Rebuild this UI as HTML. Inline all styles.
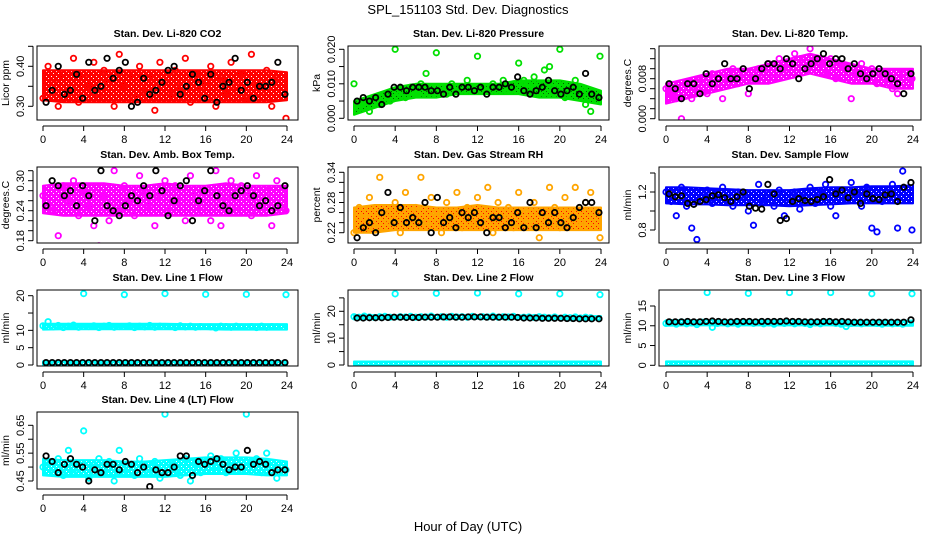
<!DOCTYPE html>
<html><head><meta charset="utf-8"><style>
html,body{margin:0;padding:0;background:#fff;}
svg{display:block;font-family:"Liberation Sans",sans-serif;}
</style></head><body>
<svg id="chart" width="936" height="540" viewBox="0 0 936 540">
<text x="468" y="14" text-anchor="middle" font-size="13">SPL_151103  Std. Dev. Diagnostics</text>
<text x="468" y="531" text-anchor="middle" font-size="13">Hour of Day (UTC)</text>
</svg>
<script>
const xTicks=[0,4,8,12,16,20,24];
const coHours=[0,0.5,1,1.5,2,2.5,3,3.5,4,4.5,5,5.5,6,6.5,7,7.5,8,8.5,9,9.5,10,10.5,11,11.5,12,12.5,13,13.5,14,14.5,15,15.5,16,16.5,17,17.5,18,18.5,19,19.5,20,20.5,21,21.5,22,22.5,23,23.9];
const bkHours=[0.3,0.9,1.5,2.1,2.7,3.3,3.9,4.5,5.1,5.7,6.3,6.9,7.5,8.1,8.7,9.3,9.9,10.5,11.1,11.7,12.3,12.9,13.5,14.1,14.7,15.3,15.9,16.5,17.1,17.7,18.3,18.9,19.5,20.1,20.7,21.3,21.9,22.5,23.1,23.8];
const bandHours=[0,2,4,6,8,10,12,14,16,18,20,22,24];

const co2Col=[0.32,0.40,0.36,0.30,0.38,0.34,0.42,0.31,0.37,0.35,0.41,0.33,0.39,0.36,0.30,0.43,0.35,0.38,0.32,0.40,0.34,0.37,0.29,0.41,0.36,0.33,0.39,0.35,0.42,0.31,0.38,0.34,0.36,0.40,0.30,0.37,0.33,0.41,0.35,0.38,0.32,0.43,0.36,0.34,0.39,0.30,0.37,0.27];
const co2Blk=[0.31,0.34,0.40,0.33,0.34,0.38,0.32,0.41,0.34,0.35,0.42,0.37,0.39,0.41,0.30,0.31,0.37,0.33,0.34,0.36,0.39,0.40,0.33,0.35,0.38,0.36,0.32,0.38,0.31,0.35,0.36,0.42,0.34,0.36,0.32,0.35,0.35,0.36,0.41,0.33];
const co2Lo=[0.315,0.31,0.31,0.31,0.31,0.31,0.31,0.31,0.31,0.31,0.31,0.31,0.315];
const co2Hi=[0.39,0.39,0.39,0.39,0.39,0.39,0.39,0.39,0.39,0.39,0.39,0.39,0.385];

const prCol=[0.010,0.003,0.005,0.002,0.006,0.004,0.007,0.005,0.020,0.008,0.006,0.009,0.007,0.010,0.013,0.008,0.019,0.009,0.007,0.010,0.008,0.009,0.011,0.008,0.018,0.009,0.008,0.010,0.009,0.011,0.008,0.010,0.016,0.011,0.009,0.012,0.010,0.014,0.015,0.009,0.020,0.006,0.008,0.011,0.009,0.004,0.002,0.018];
const prBlk=[0.005,0.006,0.005,0.006,0.004,0.007,0.009,0.009,0.008,0.009,0.009,0.009,0.008,0.008,0.007,0.009,0.007,0.009,0.009,0.008,0.009,0.007,0.009,0.009,0.010,0.009,0.012,0.008,0.007,0.008,0.009,0.011,0.008,0.007,0.008,0.009,0.007,0.013,0.007,0.006];
const prLo=[0.001,0.003,0.005,0.006,0.006,0.007,0.007,0.007,0.007,0.006,0.006,0.005,0.004];
const prHi=[0.005,0.007,0.009,0.010,0.010,0.010,0.010,0.010,0.011,0.011,0.011,0.010,0.008];

const tpCol=[0.006,0.005,0.004,0.000,0.007,0.004,0.006,0.008,0.005,0.009,0.007,0.004,0.008,0.010,0.007,0.009,0.005,0.008,0.010,0.009,0.011,0.008,0.012,0.010,0.011,0.013,0.012,0.010,0.014,0.012,0.011,0.009,0.012,0.008,0.011,0.010,0.004,0.009,0.011,0.008,0.010,0.007,0.009,0.008,0.006,0.005,0.009,0.008];
const tpBlk=[0.007,0.006,0.004,0.007,0.007,0.005,0.009,0.007,0.008,0.011,0.008,0.008,0.010,0.006,0.008,0.010,0.011,0.011,0.010,0.012,0.011,0.008,0.010,0.011,0.012,0.013,0.011,0.012,0.012,0.010,0.011,0.009,0.008,0.009,0.010,0.009,0.008,0.007,0.005,0.009];
const tpLo=[0.003,0.004,0.005,0.006,0.007,0.007,0.008,0.009,0.008,0.007,0.007,0.006,0.006];
const tpHi=[0.007,0.008,0.009,0.010,0.010,0.011,0.012,0.013,0.012,0.011,0.010,0.010,0.010];

const bxCol=[0.27,0.25,0.24,0.19,0.29,0.26,0.30,0.23,0.28,0.25,0.21,0.17,0.27,0.22,0.32,0.24,0.29,0.26,0.23,0.31,0.28,0.25,0.21,0.27,0.30,0.24,0.29,0.26,0.22,0.31,0.27,0.24,0.28,0.22,0.32,0.21,0.26,0.30,0.24,0.29,0.27,0.23,0.31,0.25,0.28,0.21,0.30,0.24];
const bxBlk=[0.25,0.30,0.29,0.27,0.28,0.25,0.29,0.27,0.22,0.32,0.25,0.24,0.23,0.25,0.27,0.26,0.29,0.27,0.32,0.28,0.23,0.26,0.29,0.30,0.22,0.26,0.28,0.32,0.27,0.25,0.24,0.27,0.28,0.29,0.27,0.25,0.26,0.24,0.25,0.29];
const bxLo=[0.235,0.23,0.23,0.23,0.23,0.23,0.23,0.23,0.23,0.23,0.23,0.23,0.235];
const bxHi=[0.29,0.295,0.295,0.295,0.29,0.29,0.295,0.29,0.29,0.295,0.29,0.29,0.29];

const rhCol=[0.22,0.27,0.25,0.29,0.23,0.33,0.26,0.24,0.28,0.22,0.30,0.25,0.27,0.33,0.24,0.29,0.26,0.22,0.28,0.25,0.30,0.23,0.27,0.24,0.29,0.26,0.31,0.22,0.28,0.25,0.27,0.23,0.30,0.26,0.24,0.28,0.21,0.25,0.31,0.27,0.23,0.29,0.25,0.31,0.24,0.28,0.30,0.21];
const rhBlk=[0.21,0.23,0.24,0.22,0.26,0.30,0.24,0.27,0.24,0.25,0.24,0.28,0.22,0.29,0.24,0.25,0.23,0.26,0.25,0.26,0.24,0.22,0.25,0.25,0.23,0.24,0.26,0.23,0.28,0.23,0.26,0.24,0.26,0.24,0.23,0.25,0.27,0.28,0.28,0.26];
const rhLo=[0.22,0.22,0.225,0.225,0.225,0.225,0.225,0.225,0.225,0.225,0.225,0.225,0.225];
const rhHi=[0.27,0.275,0.275,0.275,0.27,0.27,0.275,0.27,0.27,0.27,0.27,0.27,0.27];

const sfCol=[1.20,1.10,0.95,1.25,1.05,0.82,0.70,1.15,1.22,1.08,1.18,1.25,1.12,1.05,1.20,1.15,1.00,0.85,1.28,1.10,1.18,1.05,1.22,0.95,1.12,1.20,1.02,1.15,1.25,1.08,1.18,1.28,1.05,0.95,1.22,1.12,1.30,1.18,1.05,1.25,0.82,0.78,1.10,1.20,1.28,0.82,1.42,0.80];
const sfBlk=[1.18,1.15,1.16,1.08,1.07,1.10,1.12,1.16,1.17,1.14,1.10,1.15,1.20,1.05,1.03,1.02,1.28,1.18,0.90,0.92,1.10,1.13,1.11,1.10,1.12,1.15,1.33,1.18,1.22,1.14,1.20,1.08,1.18,1.13,1.12,1.17,1.18,1.10,1.25,1.30];
const sfLo=[1.08,1.07,1.07,1.06,1.06,1.06,1.05,1.06,1.07,1.08,1.08,1.08,1.08];
const sfHi=[1.25,1.25,1.24,1.23,1.22,1.22,1.22,1.24,1.25,1.25,1.26,1.26,1.27];

const l1Col=[11.3,12.5,11.0,11.4,10.8,11.2,11.5,10.9,20.6,11.1,11.3,10.8,11.2,11.4,10.9,11.1,20.3,11.3,10.8,11.2,11.0,11.4,10.9,11.2,20.6,11.1,10.8,11.3,11.0,11.2,10.9,11.1,20.4,11.0,10.7,11.2,11.1,10.9,11.2,11.0,20.4,11.1,10.8,11.2,10.9,11.1,11.0,20.3];
const l1Blk=[0.7,0.7,0.7,0.7,0.7,0.7,0.7,0.7,0.7,0.7,0.7,0.7,0.7,0.7,0.7,0.7,0.7,0.7,0.7,0.7,0.7,0.7,0.7,0.7,0.7,0.7,0.7,0.7,0.7,0.7,0.7,0.7,0.7,0.7,0.7,0.7,0.7,0.7,0.7,0.7];
const l1Lo=[10.2,10.3,10.3,10.3,10.3,10.3,10.3,10.3,10.3,10.2,10.2,10.2,10.2];
const l1Hi=[11.9,11.9,11.9,11.9,11.9,11.9,11.9,11.8,11.8,11.8,11.8,11.8,11.8];
const l1Lo2=[0,0,0,0,0,0,0,0,0,0,0,0,0];
const l1Hi2=[1.1,1.1,1.1,1.1,1.1,1.1,1.1,1.1,1.1,1.1,1.1,1.1,1.1];

const l2Col=[18.0,17.8,18.2,17.9,17.7,18.0,18.1,17.8,26.5,18.0,17.9,18.1,17.8,18.0,17.9,18.2,26.7,18.0,17.8,18.1,17.9,18.0,17.8,18.1,26.8,18.0,17.9,18.2,17.8,18.0,17.9,18.1,26.5,17.8,17.9,17.7,18.0,17.8,17.6,17.9,26.5,17.8,17.6,17.9,17.5,17.8,17.6,26.2];
const l2Blk=[17.5,17.5,17.6,17.6,17.6,17.7,17.8,17.8,17.7,17.7,17.7,17.8,17.8,17.8,17.9,17.9,17.8,17.8,17.9,17.9,17.9,17.8,17.8,17.8,17.8,17.8,17.7,17.5,17.5,17.5,17.4,17.4,17.4,17.4,17.3,17.3,17.2,17.2,17.2,17.2];
const l2Lo=[17.0,17.1,17.1,17.2,17.2,17.2,17.2,17.2,17.1,17.0,17.0,16.9,16.9];
const l2Hi=[18.6,18.5,18.5,18.5,18.6,18.6,18.6,18.6,18.5,18.4,18.3,18.2,18.2];
const l2Lo2=[0,0,0,0,0,0,0,0,0,0,0,0,0];
const l2Hi2=[1.3,1.3,1.3,1.3,1.3,1.3,1.3,1.3,1.3,1.3,1.3,1.3,1.3];

const l3Col=[10.6,10.8,10.4,11.0,10.5,10.7,10.3,10.9,18.4,9.6,10.6,10.8,10.5,10.7,10.4,10.9,18.2,10.6,10.8,10.5,10.7,10.4,10.9,10.6,18.4,10.5,10.8,10.6,10.3,10.7,10.5,10.9,18.4,10.6,10.4,9.8,10.6,10.7,10.5,10.8,18.1,10.6,10.4,10.7,10.5,10.6,10.4,18.1];
const l3Blk=[11.0,11.0,11.0,11.1,11.0,11.0,11.1,11.2,11.1,11.0,11.0,11.1,11.1,11.1,11.0,11.1,11.1,11.1,11.1,11.2,11.1,11.1,11.0,11.0,11.0,11.1,11.1,11.0,11.1,11.0,10.9,10.9,10.9,10.9,10.9,10.9,10.9,10.9,10.9,11.5];
const l3Lo=[10.0,10.1,10.1,10.1,10.1,10.1,10.1,10.1,10.1,10.0,10.0,10.0,10.0];
const l3Hi=[11.4,11.4,11.4,11.4,11.4,11.4,11.4,11.4,11.4,11.3,11.3,11.3,11.3];
const l3Lo2=[0,0,0,0,0,0,0,0,0,0,0,0,0];
const l3Hi2=[1.0,1.0,1.0,1.0,1.0,1.0,1.0,1.0,1.0,1.0,1.0,1.0,1.0];

const l4Col=[0.50,0.52,0.48,0.53,0.47,0.56,0.49,0.51,0.63,0.46,0.50,0.53,0.48,0.52,0.45,0.56,0.49,0.51,0.47,0.53,0.50,0.48,0.52,0.46,0.69,0.51,0.49,0.47,0.53,0.45,0.51,0.48,0.52,0.54,0.50,0.53,0.48,0.52,0.55,0.49,0.69,0.51,0.53,0.48,0.55,0.50,0.46,0.49];
const l4Blk=[0.54,0.52,0.48,0.51,0.53,0.51,0.50,0.45,0.49,0.48,0.51,0.51,0.49,0.52,0.51,0.48,0.50,0.43,0.49,0.48,0.48,0.50,0.54,0.54,0.47,0.52,0.51,0.52,0.53,0.51,0.49,0.50,0.50,0.56,0.51,0.52,0.51,0.48,0.49,0.49];
const l4Lo=[0.47,0.465,0.465,0.465,0.465,0.465,0.465,0.47,0.475,0.475,0.475,0.47,0.47];
const l4Hi=[0.53,0.525,0.525,0.525,0.52,0.52,0.525,0.53,0.535,0.535,0.535,0.53,0.52];

const NS="http://www.w3.org/2000/svg";
const svg=document.getElementById('chart');
function mk(tag,parent){const e=document.createElementNS(NS,tag);parent.appendChild(e);return e;}
const defs=mk('defs',svg);
function makePattern(id,col,dot){
 const pat=mk('pattern',defs);pat.setAttribute('id',id);pat.setAttribute('width','5');pat.setAttribute('height','5');pat.setAttribute('patternUnits','userSpaceOnUse');
 const pr=mk('rect',pat);pr.setAttribute('width','5');pr.setAttribute('height','5');pr.setAttribute('fill',col);
 const pc=mk('rect',pat);pc.setAttribute('x','1');pc.setAttribute('y','1');pc.setAttribute('width','1');pc.setAttribute('height','1');pc.setAttribute('fill',dot);
 const pd=mk('rect',pat);pd.setAttribute('x','3');pd.setAttribute('y','3');pd.setAttribute('width','1');pd.setAttribute('height','1');pd.setAttribute('fill',dot);
}

const colLeft=[37,348,659], colRight=[298,609,921], colX0=[43,354,666], colX24=[287,601,913];
const rowTop=[46,167,290,412], rowBot=[120,243,366,489];

const panels=[
 {name:'li820-co2',title:'Stan. Dev. Li-820 CO2',yl:'Licor ppm',r:0,c:0,col:'#ff0000',v0:0.30,p0:106.3,v1:0.40,p1:66.3,ticks:[0.30,0.35,0.40,0.45],labs:[0.30,0.40],dec:2,cs:co2Col,bs:co2Blk,lo:co2Lo,hi:co2Hi,dot:'#ffffff'},
 {name:'li820-pressure',title:'Stan. Dev. Li-820 Pressure',yl:'kPa',r:0,c:1,col:'#00e000',v0:0,p0:118.3,v1:0.020,p1:49.3,ticks:[0,0.005,0.010,0.015,0.020],labs:[0,0.010,0.020],dec:3,cs:prCol,bs:prBlk,lo:prLo,hi:prHi,dot:'#006000'},
 {name:'li820-temp',title:'Stan. Dev. Li-820 Temp.',yl:'degrees.C',r:0,c:2,col:'#ff00ff',v0:0,p0:118.7,v1:0.008,p1:78.7,ticks:[0,0.002,0.004,0.006,0.008,0.010,0.012,0.014],labs:[0,0.008],dec:3,cs:tpCol,bs:tpBlk,lo:tpLo,hi:tpHi,dot:'#ffffff'},
 {name:'amb-box-temp',title:'Stan. Dev. Amb. Box Temp.',yl:'degrees.C',r:1,c:0,col:'#ff00ff',v0:0.18,p0:240.7,v1:0.30,p1:180.7,ticks:[0.18,0.20,0.22,0.24,0.26,0.28,0.30,0.32],labs:[0.18,0.24,0.30],dec:2,cs:bxCol,bs:bxBlk,lo:bxLo,hi:bxHi,dot:'#ffffff'},
 {name:'gas-stream-rh',title:'Stan. Dev. Gas Stream RH',yl:'percent',r:1,c:1,col:'#ffa500',v0:0.22,p0:232.7,v1:0.34,p1:172.3,ticks:[0.22,0.24,0.26,0.28,0.30,0.32,0.34],labs:[0.22,0.28,0.34],dec:2,cs:rhCol,bs:rhBlk,lo:rhLo,hi:rhHi,dot:'#ff0000'},
 {name:'sample-flow',title:'Stan. Dev. Sample Flow',yl:'ml/min',r:1,c:2,col:'#0000ff',v0:0.8,p0:230,v1:1.2,p1:192,ticks:[0.8,1.0,1.2,1.4],labs:[0.8,1.2],dec:1,cs:sfCol,bs:sfBlk,lo:sfLo,hi:sfHi,dot:'#ffffff'},
 {name:'line1-flow',title:'Stan. Dev. Line 1 Flow',yl:'ml/min',r:2,c:0,col:'#00ffff',v0:0,p0:365,v1:20,p1:295.7,ticks:[0,5,10,15,20],labs:[0,5,10,20],dec:0,cs:l1Col,bs:l1Blk,lo:l1Lo,hi:l1Hi,lo2:l1Lo2,hi2:l1Hi2,dot:'#ffffff'},
 {name:'line2-flow',title:'Stan. Dev. Line 2 Flow',yl:'ml/min',r:2,c:1,col:'#00ffff',v0:0,p0:365,v1:20,p1:311.3,ticks:[0,5,10,15,20,25],labs:[0,10,20],dec:0,cs:l2Col,bs:l2Blk,lo:l2Lo,hi:l2Hi,lo2:l2Lo2,hi2:l2Hi2,dot:'#ffffff'},
 {name:'line3-flow',title:'Stan. Dev. Line 3 Flow',yl:'ml/min',r:2,c:2,col:'#00ffff',v0:0,p0:365.3,v1:15,p1:306,ticks:[0,5,10,15],labs:[0,5,10,15],dec:0,cs:l3Col,bs:l3Blk,lo:l3Lo,hi:l3Hi,lo2:l3Lo2,hi2:l3Hi2,dot:'#ffffff'},
 {name:'line4-lt-flow',title:'Stan. Dev. Line 4 (LT) Flow',yl:'ml/min',r:3,c:0,col:'#00ffff',v0:0.45,p0:481,v1:0.65,p1:425.3,ticks:[0.45,0.50,0.55,0.60,0.65],labs:[0.45,0.55,0.65],dec:2,cs:l4Col,bs:l4Blk,lo:l4Lo,hi:l4Hi,dot:'#ffffff'}
];

panels.forEach(p=>{
 const g=mk('g',svg);
 
 
 const L=colLeft[p.c],R=colRight[p.c],T=rowTop[p.r],B=rowBot[p.r];
 const xs=h=>colX0[p.c]+(colX24[p.c]-colX0[p.c])*h/24;
 const ys=v=>p.p0+(v-p.v0)*(p.p1-p.p0)/(p.v1-p.v0);
 const cx=(L+R)/2;
 const pid='pat-'+p.name;
 makePattern(pid,p.col,p.dot);
 const t=mk('text',g);t.textContent=p.title;
 
 
 t.setAttribute('x',cx);t.setAttribute('y',T-9);t.setAttribute('text-anchor','middle');t.setAttribute('font-size','10.5');t.setAttribute('font-weight','bold');
 const cp=mk('clipPath',g);cp.setAttribute('id','cp-'+p.name);
 const cr=mk('rect',cp);cr.setAttribute('x',L);cr.setAttribute('y',T);cr.setAttribute('width',R-L);cr.setAttribute('height',B-T);
 const dg=mk('g',g);dg.setAttribute('clip-path','url(#cp-'+p.name+')');
 
 
 function band(lo,hi,nm){
  let pts=bandHours.map((h,i)=>xs(h)+','+ys(hi[i]));
  pts=pts.concat(bandHours.slice().reverse().map((h,j)=>{const i=bandHours.length-1-j;return xs(h)+','+ys(lo[i]);}));
  const pg=mk('polygon',dg);pg.setAttribute('points',pts.join(' '));
  
  
  pg.setAttribute('fill','url(#'+pid+')');pg.setAttribute('stroke',p.col);pg.setAttribute('stroke-width','2');pg.setAttribute('stroke-linejoin','round');
 }
 band(p.lo,p.hi,p.name+'-core-band');
 if(p.lo2) band(p.lo2,p.hi2,p.name+'-low-band');
 p.cs.forEach((v,i)=>{
  const c=mk('circle',dg);
  
  
  c.setAttribute('cx',xs(coHours[i]));c.setAttribute('cy',ys(v));c.setAttribute('r','2.7');
  c.setAttribute('fill','none');c.setAttribute('stroke',p.col);c.setAttribute('stroke-width','1.8');
 });
 p.bs.forEach((v,i)=>{
  const c=mk('circle',dg);
  
  
  c.setAttribute('cx',xs(bkHours[i]));c.setAttribute('cy',ys(v));c.setAttribute('r','2.7');
  c.setAttribute('fill','none');c.setAttribute('stroke','#000');c.setAttribute('stroke-width','1.8');
 });
 const bx=mk('rect',g);
 
 
 bx.setAttribute('x',L);bx.setAttribute('y',T);bx.setAttribute('width',R-L);bx.setAttribute('height',B-T);bx.setAttribute('fill','none');bx.setAttribute('stroke','#000');bx.setAttribute('stroke-width','1');
 const ax=mk('g',g);
 
 
 const al=mk('line',ax);al.setAttribute('x1',xs(0));al.setAttribute('x2',xs(24));al.setAttribute('y1',B+6);al.setAttribute('y2',B+6);al.setAttribute('stroke','#000');
 xTicks.forEach(h=>{
  const tl=mk('line',ax);tl.setAttribute('x1',xs(h));tl.setAttribute('x2',xs(h));tl.setAttribute('y1',B+6);tl.setAttribute('y2',B+11);tl.setAttribute('stroke','#000');
  const tx=mk('text',ax);tx.textContent=h;
  
  
  tx.setAttribute('x',xs(h));tx.setAttribute('y',B+23);tx.setAttribute('text-anchor','middle');tx.setAttribute('font-size','11');
 });
 const ay=mk('g',g);
 
 
 const ax0=L-4;
 const yl=mk('line',ay);yl.setAttribute('x1',ax0);yl.setAttribute('x2',ax0);yl.setAttribute('y1',ys(p.ticks[0]));yl.setAttribute('y2',ys(p.ticks[p.ticks.length-1]));yl.setAttribute('stroke','#000');
 p.ticks.forEach(v=>{
  const tl=mk('line',ay);tl.setAttribute('x1',ax0-5);tl.setAttribute('x2',ax0);tl.setAttribute('y1',ys(v));tl.setAttribute('y2',ys(v));tl.setAttribute('stroke','#000');
 });
 p.labs.forEach(v=>{
  const tx=mk('text',ay);tx.textContent=v.toFixed(p.dec);
  
  
  const X=ax0-9,Y=ys(v);
  tx.setAttribute('x',X);tx.setAttribute('y',Y);tx.setAttribute('text-anchor','middle');tx.setAttribute('font-size','11');
  tx.setAttribute('transform','rotate(-90 '+X+' '+Y+')');
 });
 const yt=mk('text',ay);yt.textContent=p.yl;
 
 
 const YX=ax0-24,YY=(T+B)/2;
 yt.setAttribute('x',YX);yt.setAttribute('y',YY);yt.setAttribute('text-anchor','middle');yt.setAttribute('font-size','10.5');
 yt.setAttribute('transform','rotate(-90 '+YX+' '+YY+')');
});
</script>
</body></html>
